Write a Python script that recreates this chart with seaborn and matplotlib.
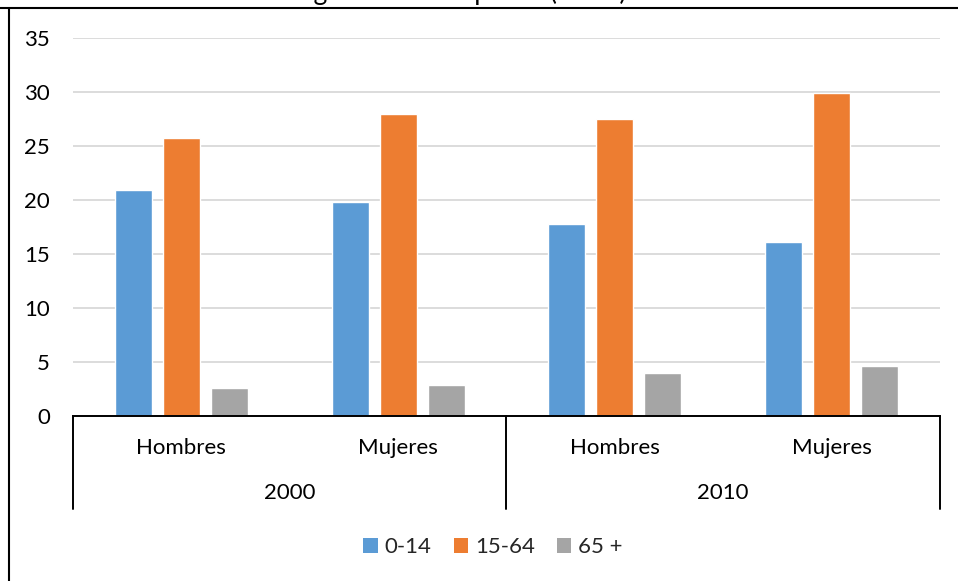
import matplotlib
matplotlib.use("Agg")
import matplotlib.pyplot as plt
from matplotlib.lines import Line2D
from matplotlib.patches import Patch
import seaborn as sns
import pandas as pd

# Population share by age group, sex and census year
years = ["2000", "2010"]
sexes = ["Hombres", "Mujeres"]
age_groups = ["0-14", "15-64", "65 +"]
share_0_14 = [20.9, 19.8, 17.8, 16.1]
share_15_64 = [25.7, 27.9, 27.5, 29.9]
share_65 = [2.6, 2.9, 4.0, 4.6]
y_ticks = [0, 5, 10, 15, 20, 25, 30, 35]
title = "Región Total Hispanos (Miles)"
colors = ["#5B9BD5", "#ED7D31", "#A5A5A5"]

groups = [f"{y} {s}" for y in years for s in sexes]
rows = []
for series, age in zip([share_0_14, share_15_64, share_65], age_groups):
    for g, v in zip(groups, series):
        rows.append({"grupo": g, "edad": age, "valor": v})
df = pd.DataFrame(rows)

sns.set_theme(style="white")
plt.rcParams["font.family"] = ["Lato", "DejaVu Sans"]
FS = 16

fig = plt.figure(figsize=(9.58, 5.81), dpi=100)
W, H = 958, 581
ax = fig.add_axes([73 / W, 1 - 416 / H, (940 - 73) / W, (416 - 37.6) / H])

sns.barplot(data=df, x="grupo", y="valor", hue="edad", order=groups,
            hue_order=age_groups, palette=colors, width=0.664, gap=0.23,
            saturation=1, legend=False, ax=ax)

ax.set_xlim(-0.5, len(groups) - 0.5)
ax.set_ylim(y_ticks[0], y_ticks[-1])
ax.set_yticks(y_ticks)
ax.set_yticklabels([str(t) for t in y_ticks], fontsize=FS, color="black")
ax.tick_params(axis="y", length=0, pad=16.5)
ax.set_xticks([])
ax.set_xlabel("")
ax.set_ylabel("")
ax.yaxis.grid(True, color="#d9d9d9", lw=1.3)
ax.set_axisbelow(True)
for side in ["left", "top", "right"]:
    ax.spines[side].set_visible(False)
ax.spines["bottom"].set_color("black")
ax.spines["bottom"].set_linewidth(1.4)

# Two-level category axis below the plot
trans = ax.get_xaxis_transform()
depth = -(509 - 416) / (416 - 37.6)
for xpos in [-0.5, 1.5, 3.5]:
    ax.add_line(Line2D([xpos, xpos], [0, depth], transform=trans, color="black",
                       lw=1.4, clip_on=False))
sub_y = -(447.5 - 416) / (416 - 37.6)
top_y = -(493 - 416) / (416 - 37.6)
for i, g in enumerate(groups):
    sex = sexes[i % len(sexes)]
    ax.text(i, sub_y, sex, transform=trans, ha="center", va="center",
            fontsize=FS, color="black")
for j, y in enumerate(years):
    center = j * len(sexes) + (len(sexes) - 1) / 2
    ax.text(center, top_y, y, transform=trans, ha="center", va="center",
            fontsize=FS, color="black")

# Legend
handles = [Patch(facecolor=c, edgecolor="none") for c in colors]
fig.legend(handles, age_groups, loc="center", bbox_to_anchor=(493 / W, 1 - 547 / H),
           ncol=3, frameon=False, fontsize=FS, handlelength=0.65, handleheight=0.65,
           handletextpad=0.3, columnspacing=1.0)

# Chart frame and title
fig.add_artist(Line2D([0, 1], [1 - 8 / H, 1 - 8 / H], transform=fig.transFigure,
                      color="black", lw=1.5))
fig.add_artist(Line2D([9 / W, 9 / W], [0, 1 - 8 / H], transform=fig.transFigure,
                      color="black", lw=1.5))
fig.text(455 / W, 1.0, title, ha="center", va="baseline", fontsize=19, color="black")

fig.savefig("out.png", dpi=100)
